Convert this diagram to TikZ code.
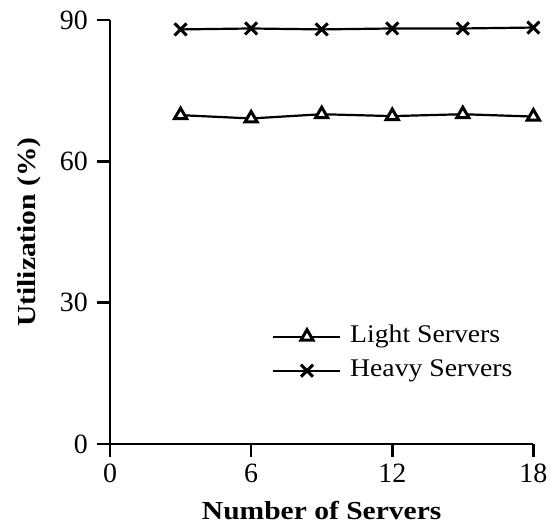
\documentclass[tikz,border=0pt]{standalone}
\usepackage{fontspec}
\setmainfont{Liberation Serif}
\newfontfamily\titlefont[FakeStretch=1.14]{Liberation Serif}
\newfontfamily\legfont[FakeStretch=1.09]{Liberation Serif}
\usetikzlibrary{plotmarks}
\tikzset{
  axisline/.style={line width=2.6bp},
  dataline/.style={line width=2.2bp},
  ticklab/.style={font=\fontsize{28}{30}\selectfont, inner sep=0pt},
  legtext/.style={font=\legfont\fontsize{25.5}{28}\selectfont, inner sep=0pt, anchor=west},
  axtitle/.style={font=\titlefont\fontsize{26}{28}\selectfont\bfseries, inner sep=0pt},
  xmk/.style={mark=x, mark size=8.5bp, mark options={line width=3bp}},
  tmk/.style={mark=triangle*, mark size=7bp, mark options={fill=white, line width=3bp}}
}
\begin{document}
\begin{tikzpicture}[x=1bp,y=1bp]
\useasboundingbox (0,0) rectangle (552,527);
\begin{scope}[shift={(110bp,83bp)}, x=23.52bp, y=4.711bp]
  % axes
  \draw[axisline] (0,90) -- (0,0) -- (18,0);
  \draw[axisline] (-13bp,0) -- (0,0);
  \foreach \v in {30,60,90} \draw[axisline] (0,\v) -- ++(-13bp,0);
  \foreach \v in {0,6,12,18} \draw[axisline] (\v,0) -- ++(0,-13bp);
  \foreach \v in {0,30,60,90} \node[ticklab, anchor=east] (yl\v) at ([xshift=-22bp]0,\v) {\v};
  \foreach \v in {0,6,12,18} \node[ticklab, anchor=north] (xl\v) at ([yshift=-20bp]\v,0) {\v};
  % data
  \draw[dataline, xmk]
    plot coordinates {(3,88.0) (6,88.2) (9,88.0) (12,88.2) (15,88.2) (18,88.4)};
  \draw[dataline, tmk]
    plot coordinates {(3,69.8) (6,69.1) (9,70.0) (12,69.6) (15,70.0) (18,69.5)};
\end{scope}
% legend
\coordinate (l1a) at (273,190.3);
\coordinate (l1b) at (340,190.3);
\coordinate (l2a) at (273,156.3);
\coordinate (l2b) at (340,156.3);
\draw[dataline] (l1a) -- (l1b);
\draw[dataline] (l2a) -- (l2b);
\draw[dataline, tmk] plot coordinates {(307,190.3)};
\draw[dataline, xmk] plot coordinates {(307,156.3)};
\node[legtext] (leg1) at (350,190.3) {Light Servers};
\node[legtext] (leg2) at (350,156.3) {Heavy Servers};
% axis titles
\node[axtitle, anchor=base] (xt) at (321.7,7) {Number of Servers};
\node[axtitle, rotate=90] (yt) at (29,295) {Utilization (\%)};
\end{tikzpicture}
\end{document}
